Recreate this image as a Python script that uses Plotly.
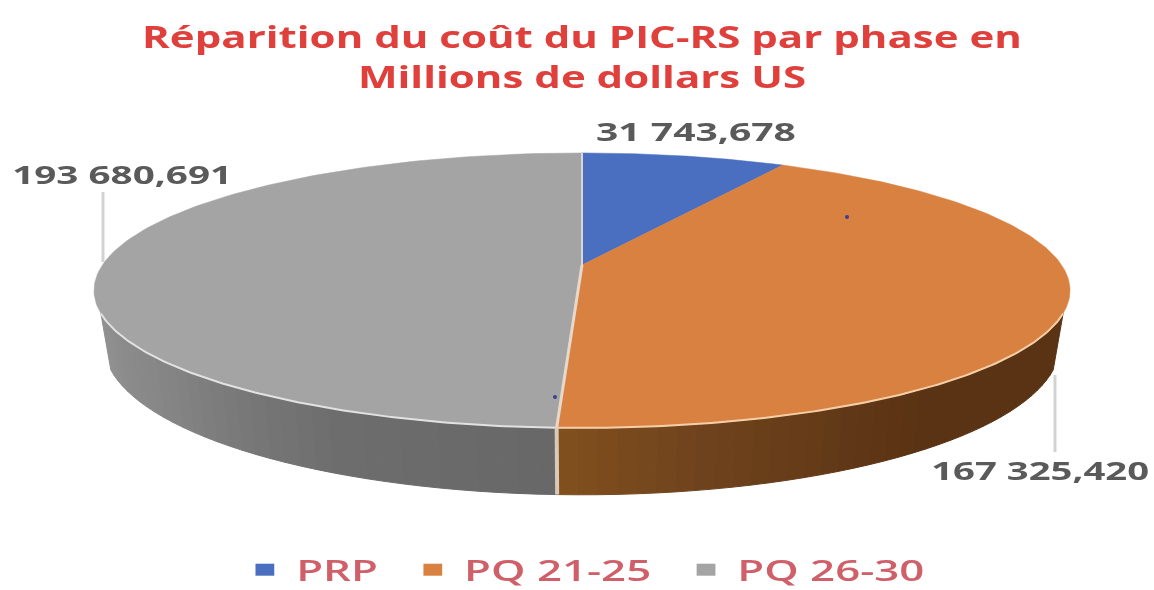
import numpy as np
import plotly.graph_objects as go

# ---- data ----
categories = ["PRP", "PQ 21-25", "PQ 26-30"]
values = [31743.678, 167325.420, 193680.691]
value_labels = ["31 743,678", "167 325,420", "193 680,691"]
title_lines = ["Réparition du coût du PIC-RS par phase en", "Millions de dollars US"]

# ---- style ----
TOP_COLORS = ["#4A6FC0", "#D98140", "#A4A4A4"]
WALL_STOPS = {1: [(0, "#5a3314"), (0.45, "#5a3314"), (0.8, "#6f431d"), (1, "#82501f")],
              2: [(0, "#686868"), (0.35, "#6e6e6e"), (0.7, "#858585"), (1, "#919191")]}
W, H = 1154, 590
K = 0.185
CX = 582
TOP = dict(a=479.6, b=132.8, cy=265)
BOT = dict(a=469.7, b=144.9, cy=317)


def project(theta_deg, p):
    t = np.radians(theta_deg)
    w = 1 + K * np.cos(t)
    return CX + p["a"] * np.sin(t) / w, p["cy"] - p["b"] * np.cos(t) / w


def hex_rgb(c):
    return np.array([int(c[i:i + 2], 16) for i in (1, 3, 5)], float)


def ramp(stops, f):
    for (f0, c0), (f1, c1) in zip(stops, stops[1:]):
        if f <= f1:
            m = (f - f0) / (f1 - f0)
            r = hex_rgb(c0) * (1 - m) + hex_rgb(c1) * m
            return "rgb(%d,%d,%d)" % tuple(r)
    return stops[-1][1]


edges = np.concatenate([[0], np.cumsum(values) / np.sum(values) * 360])
fig = go.Figure()
WALL_START, WALL_END = 110, 250

# side wall, built from the slice angles
for i, (s0, s1) in enumerate(zip(edges[:-1], edges[1:])):
    lo, hi = max(s0, WALL_START), min(s1, WALL_END)
    if hi <= lo:
        continue
    steps = np.linspace(lo, hi, int((hi - lo) / 2) + 2)
    for a0, a1 in zip(steps[:-1], steps[1:]):
        xt, yt = project(np.array([a0, a1]), TOP)
        xb, yb = project(np.array([a1, a0]), BOT)
        f = ((a0 + a1) / 2 - lo) / (hi - lo)
        col = ramp(WALL_STOPS[i], f)
        fig.add_trace(go.Scatter(x=np.r_[xt, xb, xt[0]], y=np.r_[yt, yb, yt[0]], fill="toself",
                                 fillcolor=col, mode="lines", line=dict(color=col, width=1),
                                 showlegend=False, hoverinfo="skip"))

# top face slices
for i, (s0, s1) in enumerate(zip(edges[:-1], edges[1:])):
    xs, ys = project(np.linspace(s0, s1, 160), TOP)
    fig.add_trace(go.Scatter(x=np.r_[CX, xs, CX], y=np.r_[TOP["cy"], ys, TOP["cy"]], fill="toself",
                             fillcolor=TOP_COLORS[i], mode="lines",
                             line=dict(color=TOP_COLORS[i], width=0.5),
                             showlegend=False, hoverinfo="skip"))

# rim highlight
split = edges[2]
for lo, hi, col in [(WALL_START, split, "#F6CFA8"), (split, WALL_END, "#E2E2E2")]:
    xs, ys = project(np.linspace(lo, hi, 120), TOP)
    fig.add_trace(go.Scatter(x=xs, y=ys, mode="lines", line=dict(color=col, width=2),
                             showlegend=False, hoverinfo="skip"))

# slice separators
for ang, col, w in [(0, "#D8D8D8", 2), (split, "#E6D9CB", 3)]:
    x1, y1 = project(ang, TOP)
    fig.add_trace(go.Scatter(x=[CX, x1], y=[TOP["cy"], y1], mode="lines", line=dict(color=col, width=w),
                             showlegend=False, hoverinfo="skip"))
xa, ya = project(split, TOP)
xb, yb = project(split, BOT)
fig.add_trace(go.Scatter(x=[xa, xb], y=[ya, yb], mode="lines", line=dict(color="#D9C9B8", width=4),
                         showlegend=False, hoverinfo="skip"))

# tiny stray dots of the source
fig.add_trace(go.Scatter(x=[847, 555], y=[217, 397], mode="markers",
                         marker=dict(color="#3F3F8F", size=4), showlegend=False, hoverinfo="skip"))

# legend entries
for c, col in zip(categories, TOP_COLORS):
    fig.add_trace(go.Scatter(x=[None], y=[None], mode="markers", name=c,
                             marker=dict(symbol="square", size=13, color=col)))

LABEL_POS = [(696, 131), (1040, 470), (122, 174)]
LABEL_FONT = dict(family="Open Sans", size=25, color="#5A5A5A", weight=700)
annotations = [dict(x=x, y=y, text=t, showarrow=False, xanchor="center", yanchor="middle", font=LABEL_FONT)
               for (x, y), t in zip(LABEL_POS, value_labels)]

LEADER = "#D2D2D2"
shapes = [dict(type="line", x0=103, x1=103, y0=192, y1=262, line=dict(color=LEADER, width=3)),
          dict(type="line", x0=1055, x1=1055, y0=375, y1=452, line=dict(color=LEADER, width=3))]

fig.update_layout(
    width=W, height=H, margin=dict(l=0, r=0, t=0, b=0),
    paper_bgcolor="white", plot_bgcolor="white",
    xaxis=dict(range=[0, W], visible=False, fixedrange=True),
    yaxis=dict(range=[H, 0], visible=False, fixedrange=True),
    title=dict(text="<br>".join(title_lines), x=582 / W, xanchor="center", y=0.919, yanchor="top",
               font=dict(family="Open Sans", size=31, color="#E0403C", weight=700)),
    legend=dict(orientation="h", x=0.205, xanchor="left", y=0.0, yanchor="bottom", itemsizing="constant",
                font=dict(family="Open Sans", size=28, color="#CF6069", weight=600),
                bgcolor="rgba(0,0,0,0)"),
    annotations=annotations, shapes=shapes, showlegend=True,
)

post = """
document.body.style.margin='0';
function stretchTo(el, target){
  var b=el.getBBox(); var c=b.x+b.width/2; var s=target/b.width;
  var t=el.getAttribute('transform')||'';
  el.setAttribute('transform', t+' translate('+c+',0) scale('+s+',1) translate('+(-c)+',0)');
}
var gd=document.getElementById('{plot_id}');
stretchTo(gd.querySelector('.gtitle'), 880);
var widths=[200,218,220];
gd.querySelectorAll('.annotation-text').forEach(function(e,i){stretchTo(e, widths[i]);});
var lg=gd.querySelector('g.legend');
lg.setAttribute('transform', 'translate(-3,5) '+lg.getAttribute('transform')+' scale(1.565,1)');
var sb=lg.querySelector('.scrollbox'); if(sb){sb.removeAttribute('clip-path');}
lg.removeAttribute('clip-path');
lg.querySelectorAll('.traces').forEach(function(e,i){
  e.setAttribute('transform', e.getAttribute('transform')+' translate('+(10*i)+',0)');
});
gd.style.filter='blur(0.7px)';
"""
fig.write_html("out.html", post_script=post, config=dict(displayModeBar=False))
